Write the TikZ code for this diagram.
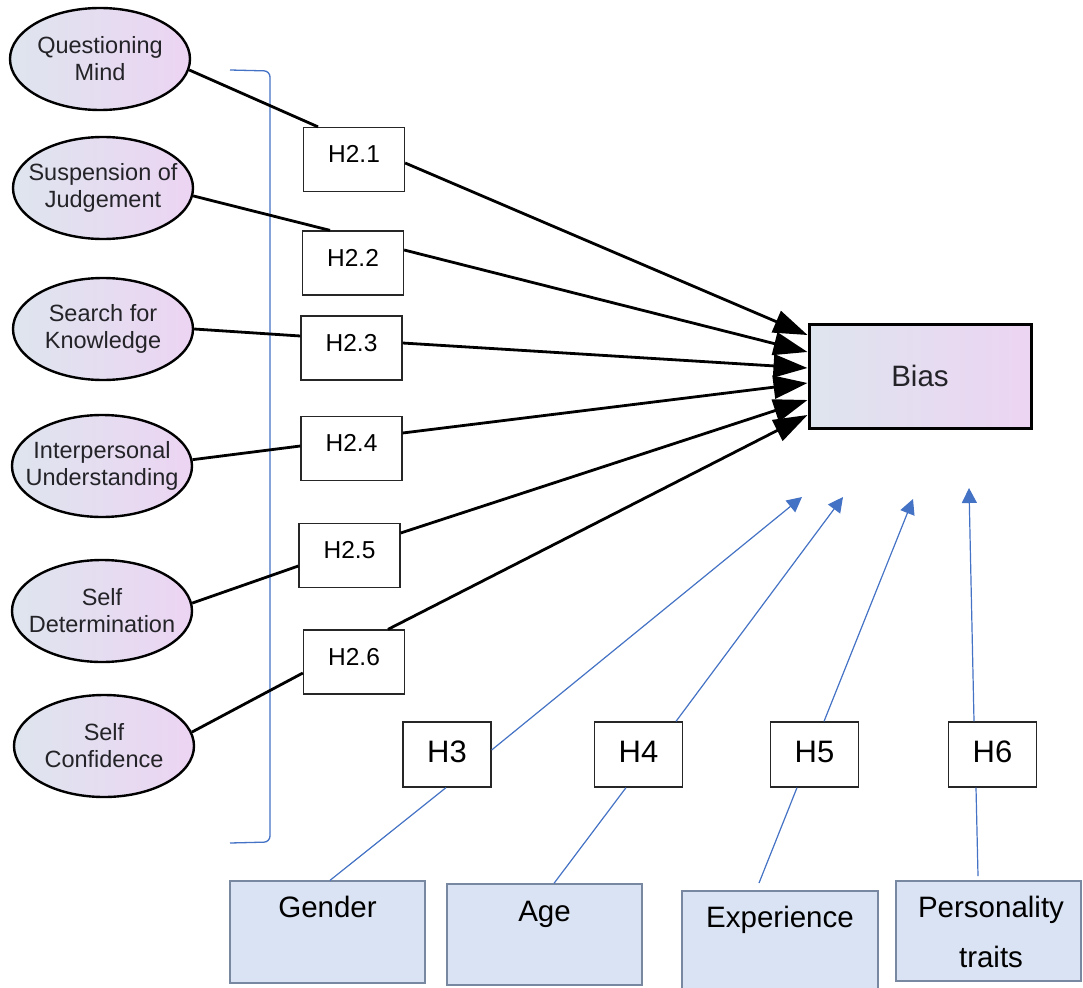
\documentclass[tikz,border=0pt]{standalone}
\usepackage{fontspec}
\setmainfont{Liberation Sans}
\usetikzlibrary{shapes.geometric,arrows.meta,calc}

\definecolor{shadeL}{RGB}{222,229,238}
\definecolor{shadeR}{RGB}{236,212,243}
\definecolor{hypblue}{RGB}{68,114,196}
\definecolor{ctrlfill}{RGB}{218,227,243}
\definecolor{ctrlline}{RGB}{120,136,160}
\definecolor{inktext}{RGB}{35,35,40}

\begin{document}
\begin{tikzpicture}[x=1pt,y=-1pt,
  construct/.style={ellipse, draw=black, line width=2.4pt, left color=shadeL, right color=shadeR,
    minimum width=180pt, minimum height=102pt, inner sep=0pt},
  ctext/.style={font=\fontsize{23.5}{27}\selectfont, text=inktext, align=center, inner sep=0pt},
  hypbox/.style={draw=black!85, line width=1.3pt, fill=white, minimum width=101pt, minimum height=64pt,
    inner sep=0pt, font=\fontsize{24.5}{28}\selectfont, text depth=11pt},
  modbox/.style={draw=black!85, line width=1.3pt, fill=white, minimum width=88pt, minimum height=65pt,
    inner sep=0pt, font=\fontsize{31}{35}\selectfont, text depth=6pt},
  ctrlbox/.style={draw=ctrlline, line width=1.3pt, fill=ctrlfill, inner sep=0pt},
  ctrltext/.style={font=\fontsize{29.5}{50}\selectfont, align=center, inner sep=0pt, anchor=north},
  pathline/.style={line width=2.8pt, black},
  patharrow/.style={pathline, -{Triangle[length=34pt,width=23pt]}},
  blueline/.style={hypblue, line width=1.2pt},
  bluearrow/.style={blueline, -{Triangle[length=15pt,width=15pt]}},
  bracket/.style={hypblue, line width=1.3pt, rounded corners=6pt}
]
\useasboundingbox (0,0) rectangle (1083,987);

% grouping bracket behind the predictor paths
\draw[bracket] (230,70) -- (270,71) -- (270,842) -- (230,843);

% curiosity constructs
\node[construct] (e1) at (100,59)  {};
\node[construct] (e2) at (103,188) {};
\node[construct] (e3) at (103,329) {};
\node[construct] (e4) at (102,466) {};
\node[construct] (e5) at (102,611) {};
\node[construct] (e6) at (104,746) {};
\node[ctext] (e1t) at (e1) {Questioning\\Mind};
\node[ctext] (e2t) at (e2) {Suspension of\\Judgement};
\node[ctext] (e3t) at (e3) {Search for\\Knowledge};
\node[ctext] (e4t) at (e4) {Interpersonal\\Understanding};
\node[ctext] (e5t) at (e5) {Self\\Determination};
\node[ctext] (e6t) at (e6) {Self\\Confidence};

% outcome
\node[draw=black, line width=3pt, left color=shadeL, right color=shadeR,
      minimum width=222pt, minimum height=104pt, inner sep=0pt,
      font=\fontsize{29.5}{33}\selectfont, text=inktext] (bias) at (920,376) {Bias};

% hypothesis labels on the main paths
\node[hypbox] (h1) at (354,159.5) {H2.1};
\node[hypbox] (h2) at (353,263)   {H2.2};
\node[hypbox] (h3) at (351.5,348) {H2.3};
\node[hypbox] (h4) at (351.5,448.5) {H2.4};
\node[hypbox] (h5) at (349.5,555.5) {H2.5};
\node[hypbox] (h6) at (354,662)   {H2.6};

% paths: construct -> hypothesis -> Bias
\draw[pathline]  (e1.-7.8) -- ($(h1.north)+(-36,0)$);
\draw[patharrow] ($(h1.east)+(0,3.5)$) -- ($(bias.west)+(0,-41)$);
\draw[pathline]  (e2.-5.5) -- ($(h2.north)+(-23,0)$);
\draw[patharrow] ($(h2.east)+(0,-13)$) -- ($(bias.west)+(0,-24)$);
\draw[pathline]  (e3.east) -- ($(h3.west)+(0,-12)$);
\draw[patharrow] ($(h3.east)+(0,-5)$) -- ($(bias.west)+(0,-8)$);
\draw[pathline]  (e4.4) -- ($(h4.west)+(0,-2.5)$);
\draw[patharrow] ($(h4.east)+(0,-15.5)$) -- ($(bias.west)+(0,7)$);
\draw[pathline]  (e5.5.7) -- ($(h5.west)+(0,10.5)$);
\draw[patharrow] ($(h5.east)+(0,-22.5)$) -- ($(bias.west)+(0,24)$);
\draw[pathline]  (e6.9.6) -- ($(h6.west)+(0,11)$);
\draw[patharrow] ($(h6.north)+(34,0)$) -- ($(bias.west)+(0,39)$);

% moderators
\node[ctrlbox, minimum width=195pt, minimum height=102pt] (gen) at (327.5,932) {};
\node[ctrlbox, minimum width=195pt, minimum height=101pt] (age) at (544.5,934.5) {};
\node[ctrlbox, minimum width=196pt, minimum height=109pt] (exp) at (780,945.5) {};
\node[ctrlbox, minimum width=185pt, minimum height=100pt] (pers) at (988.5,931) {};
\node[ctrltext] (gent)  at (327.5,896) {Gender};
\node[ctrltext] (aget)  at (544.5,901) {Age};
\node[ctrltext] (expt)  at (780,906)   {Experience};
\node[ctrltext] (perst) at (991,896)   {Personality\\traits};

\node[modbox] (m3) at (447,754.5)   {H3};
\node[modbox] (m4) at (638.5,754.5) {H4};
\node[modbox] (m5) at (814.5,754.5) {H5};
\node[modbox] (m6) at (992.5,754.5) {H6};

% free ends of the moderator paths
\coordinate (expstart)  at (759,883);
\coordinate (persstart) at (978,876);
\coordinate (t3) at (802,497);
\coordinate (t4) at (843,497);
\coordinate (t5) at (913,499);
\coordinate (t6) at (969,488);

\draw[blueline]  ($(gen.north)+(2.5,0)$) -- ($(m3.south)+(-1,0)$);
\draw[bluearrow] ($(m3.east)+(0,-4.5)$) -- (t3);
\draw[blueline]  ($(age.north)+(9.5,0)$) -- ($(m4.south)+(-12.5,0)$);
\draw[bluearrow] ($(m4.north)+(37.5,0)$) -- (t4);
\draw[blueline]  (expstart) -- ($(m5.south)+(-17.5,0)$);
\draw[bluearrow] ($(m5.north)+(9.5,0)$) -- (t5);
\draw[blueline]  (persstart) -- ($(m6.south)+(-16.5,0)$);
\draw[bluearrow] ($(m6.north)+(-18.5,0)$) -- (t6);
\end{tikzpicture}
\end{document}
